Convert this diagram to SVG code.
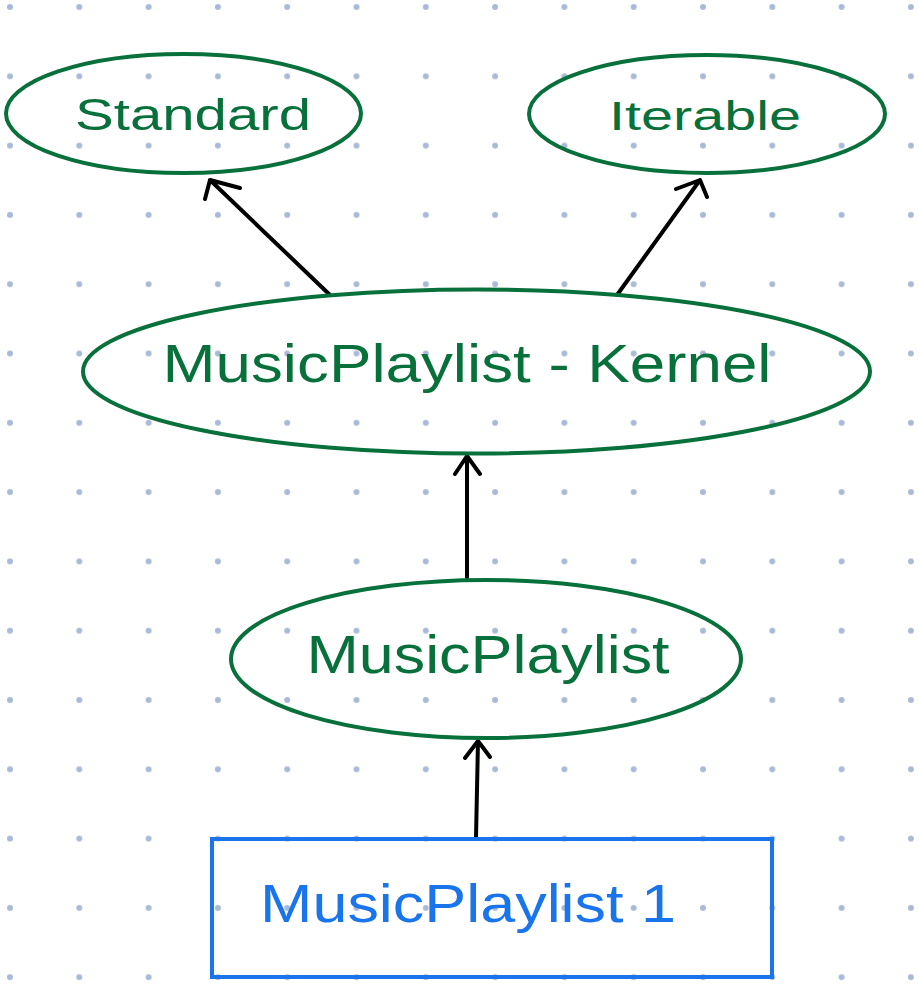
<svg xmlns="http://www.w3.org/2000/svg" width="919" height="1003" viewBox="0 0 919 1003">
<defs>
<pattern id="dots" patternUnits="userSpaceOnUse" x="-24.65" y="-27.65" width="69.3" height="69.3">
<circle cx="34.65" cy="34.65" r="3" fill="#a9b9d6"/>
</pattern>
</defs>
<style>
.node{fill:none;stroke:#08703a;stroke-width:4}
.lbl{font-family:"Liberation Sans",Arial,sans-serif;fill:#08703a;text-anchor:middle}
.blue{fill:#1a75ec}
.box{fill:none;stroke:#1a75ec;stroke-width:4}
.edge{fill:none;stroke:#000;stroke-width:4;stroke-linecap:round;stroke-linejoin:round}
</style>
<rect width="919" height="1003" fill="#fff"/>
<rect width="919" height="1003" fill="url(#dots)"/>
<g id="connectors">
<path class="edge" d="M330,295 L210,180 M205,199 L210,180 L240,188"/>
<path class="edge" d="M617,295 L700,180 M676,189 L700,180 L707,197"/>
<path class="edge" d="M467,578 L467,456 M455,474 L467,456 L480,474"/>
<path class="edge" d="M476,838 L478,741 M465,758 L478,741 L490,757"/>
</g>
<g id="standard">
<ellipse class="node" cx="183.5" cy="113.5" rx="177.5" ry="59.5"/>
<text class="lbl" x="193" y="130" font-size="44" textLength="236" lengthAdjust="spacingAndGlyphs">Standard</text>
</g>
<g id="iterable">
<ellipse class="node" cx="707" cy="114" rx="178" ry="59"/>
<text class="lbl" x="705" y="130" font-size="40" textLength="192" lengthAdjust="spacingAndGlyphs">Iterable</text>
</g>
<g id="kernel">
<ellipse class="node" cx="476.5" cy="371.5" rx="393.5" ry="82"/>
<text class="lbl" x="467" y="382" font-size="54" textLength="609" lengthAdjust="spacingAndGlyphs">MusicPlaylist - Kernel</text>
</g>
<g id="musicplaylist">
<ellipse class="node" cx="486" cy="659" rx="255" ry="79"/>
<text class="lbl" x="488" y="673" font-size="54" textLength="363" lengthAdjust="spacingAndGlyphs">MusicPlaylist</text>
</g>
<g id="musicplaylist1">
<rect class="box" x="212" y="839" width="560" height="138"/>
<text class="lbl blue" x="468" y="922" font-size="54" textLength="416" lengthAdjust="spacingAndGlyphs">MusicPlaylist 1</text>
</g>
</svg>
